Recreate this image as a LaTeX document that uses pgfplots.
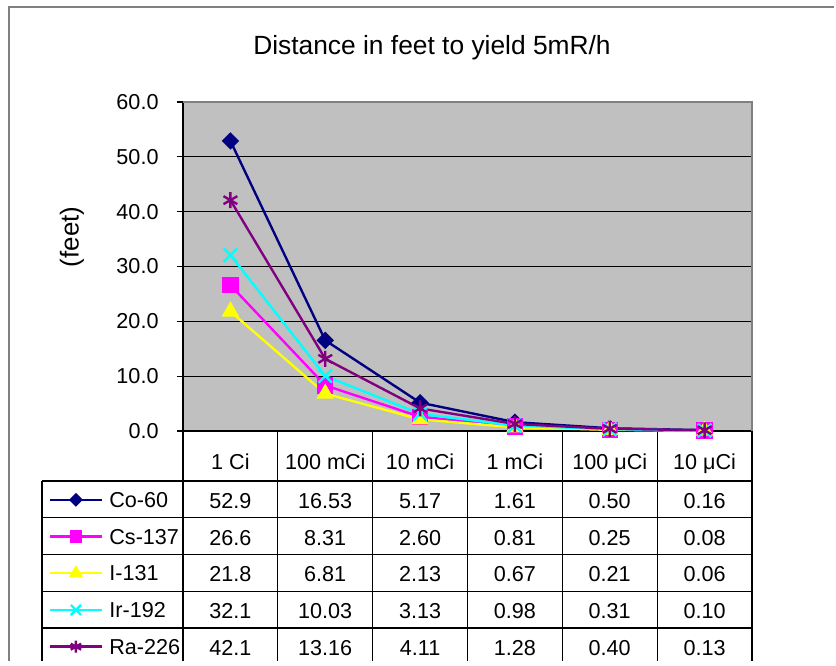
\documentclass[border=0pt]{standalone}
\usepackage{fontspec}
\setmainfont{Liberation Sans}
\usepackage{pgfplots}
\pgfplotsset{compat=1.18}
\definecolor{silver}{RGB}{192,192,192}
\definecolor{navyc}{RGB}{0,0,128}
\definecolor{magc}{RGB}{255,0,255}
\definecolor{yelc}{RGB}{255,255,0}
\definecolor{cyac}{RGB}{0,255,255}
\definecolor{purc}{RGB}{128,0,128}
\definecolor{bordergray}{RGB}{128,128,128}
\begin{document}
\begin{tikzpicture}
\begin{scope}[x=0.463pt,y=-0.463pt]
\useasboundingbox (0,0) rectangle (836,661);
\draw[bordergray, line width=0.9pt] (9,661) -- (9,7) -- (834,7);
\node[font=\fontsize{12.2}{14}\selectfont] at (432,48) {Distance in feet to yield 5mR/h};
\node[font=\fontsize{12}{14}\selectfont, rotate=90] at (72,237) {(feet)};
% table grid
\foreach \i in {0,...,6} \draw[line width=0.5pt] ({183+\i*94.833},431) -- ({183+\i*94.833},661);
\draw[line width=0.5pt] (42,481) -- (42,661);
\foreach \j in {0,...,4} \draw[line width=0.5pt] (42,{481+\j*36.75}) -- (752,{481+\j*36.75});
% table values
\begin{scope}[every node/.style={font=\fontsize{10}{12}\selectfont, anchor=base}]
\foreach \v [count=\c from 0] in {52.9,16.53,5.17,1.61,0.50,0.16} \node at ({230.4+\c*94.833},508.3) {\v};
\foreach \v [count=\c from 0] in {26.6,8.31,2.60,0.81,0.25,0.08} \node at ({230.4+\c*94.833},545.05) {\v};
\foreach \v [count=\c from 0] in {21.8,6.81,2.13,0.67,0.21,0.06} \node at ({230.4+\c*94.833},581.8) {\v};
\foreach \v [count=\c from 0] in {32.1,10.03,3.13,0.98,0.31,0.10} \node at ({230.4+\c*94.833},618.55) {\v};
\foreach \v [count=\c from 0] in {42.1,13.16,4.11,1.28,0.40,0.13} \node at ({230.4+\c*94.833},655.3) {\v};
\end{scope}
\end{scope}
\begin{axis}[
  at={(84.73pt,-199.55pt)}, anchor=south west,
  width=263.45pt, height=152.33pt, scale only axis,
  xmin=-0.5, xmax=5.5, ymin=0, ymax=60,
  xtick={0,...,5},
  xticklabels={1 Ci,100 mCi,10 mCi,1 mCi,100 μCi,10 μCi},
  ytick={0,10,...,60},
  axis x line*=bottom, axis y line*=left,
  axis line style={black, line width=0.9pt},
  ymajorgrids, grid style={black, line width=0.5pt},
  axis background/.style={fill=silver},
  tick align=outside, major tick length=2.8pt,
  xtick style={draw=none},
  ytick style={black, line width=0.5pt},
  tick label style={font=\fontsize{10}{12}\selectfont},
  /pgf/number format/assume math mode=true,
  yticklabel style={/pgf/number format/fixed, /pgf/number format/fixed zerofill, /pgf/number format/precision=1, xshift=-5pt},
  xticklabel style={anchor=base, yshift=-14.8pt},
  clip=false,
  after end axis/.code={\draw[bordergray, line width=0.9pt] (rel axis cs:0,1) -- (rel axis cs:1,1) -- (rel axis cs:1,0);},
  legend cell align=left,
  legend style={at={(-0.2478,-0.152)}, anchor=north west, draw=none, fill=none,
    font=\fontsize{10}{12}\selectfont, row sep=0pt, inner xsep=3pt, inner ysep=0pt,
    nodes={inner xsep=3pt, inner ysep=0pt, minimum height=17pt, text depth=0pt}},
  legend image code/.code={\draw[mark repeat=2,mark phase=2, every mark/.append style={scale=0.75}] plot coordinates {(0cm,0cm) (0.42cm,0cm) (0.84cm,0cm)};},
]
\addplot[color=navyc, line width=1.1pt, mark=square*, mark size=2.3pt, mark options={rotate=45, fill=navyc, solid}]
  coordinates {(0,52.9) (1,16.53) (2,5.17) (3,1.61) (4,0.50) (5,0.16)};
\addlegendentry{Co-60}
\addplot[color=magc, line width=1.1pt, mark=square*, mark size=3.2pt, mark options={fill=magc, solid}]
  coordinates {(0,26.6) (1,8.31) (2,2.60) (3,0.81) (4,0.25) (5,0.08)};
\addlegendentry{Cs-137}
\addplot[color=yelc, line width=1.1pt, mark=triangle*, mark size=3.6pt, mark options={fill=yelc, solid}]
  coordinates {(0,21.8) (1,6.81) (2,2.13) (3,0.67) (4,0.21) (5,0.06)};
\addlegendentry{I-131}
\addplot[color=cyac, line width=1.1pt, mark=x, mark size=4.4pt, mark options={solid}]
  coordinates {(0,32.1) (1,10.03) (2,3.13) (3,0.98) (4,0.31) (5,0.10)};
\addlegendentry{Ir-192}
\addplot[color=purc, line width=1.1pt, mark=asterisk, mark size=3.7pt, mark options={solid}]
  coordinates {(0,42.1) (1,13.16) (2,4.11) (3,1.28) (4,0.40) (5,0.13)};
\addlegendentry{Ra-226}
\end{axis}
\end{tikzpicture}
\end{document}
